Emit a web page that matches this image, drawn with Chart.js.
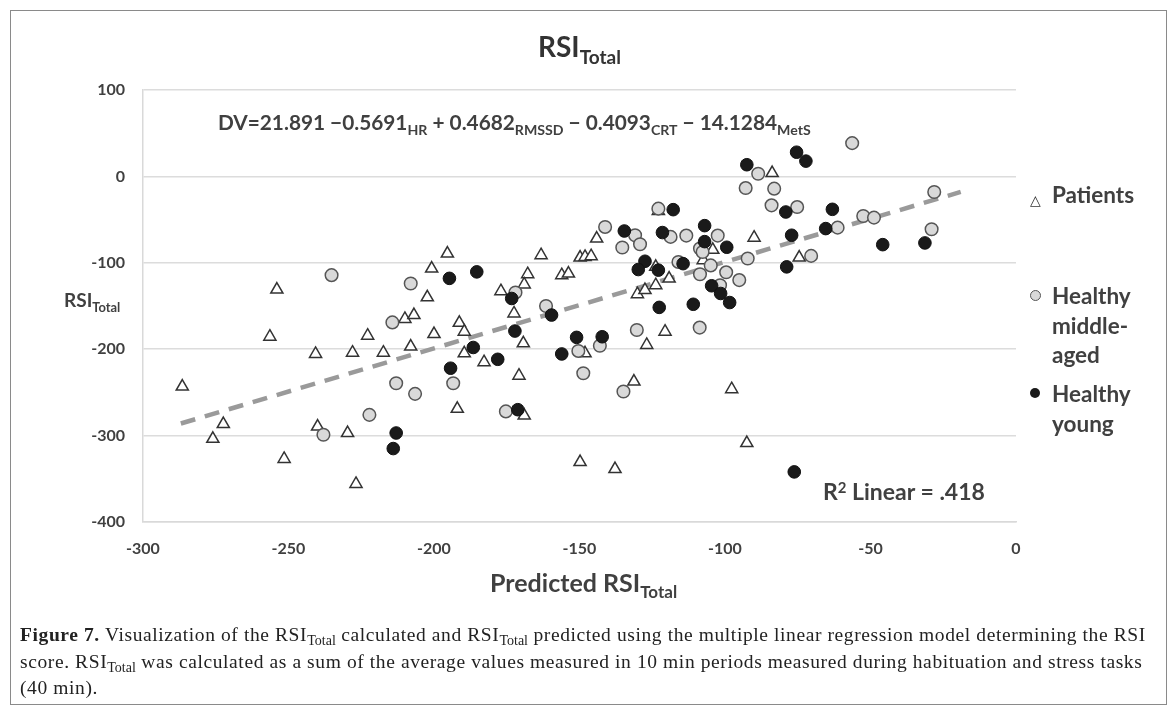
<!DOCTYPE html>
<html>
<head>
<meta charset="utf-8">
<script src="https://cdn.jsdelivr.net/npm/chart.js@4.4.0/dist/chart.umd.min.js"></script>
<style>
  html, body { margin:0; padding:0; background:#fff; }
  #page { position:relative; width:1173px; height:713px; overflow:hidden; font-family:Lato, "Open Sans", sans-serif; color:#404040; }
  #frame { position:absolute; left:10px; top:10px; width:1155px; height:693px; border:1.5px solid #8a8a8a; }
  canvas { position:absolute; left:0; top:0; }
  .lbl { position:absolute; font-weight:700; line-height:1; white-space:nowrap; }
  .lbl sub { font-size:0.68em; vertical-align:-0.35em; }
  .lbl sup { font-size:0.65em; vertical-align:0.5em; }
  .leg { position:absolute; left:1030px; font-weight:700; font-size:22.5px; line-height:29.5px; }
  .leg .txt { position:absolute; left:22px; top:0; white-space:nowrap; }
  .mk { position:absolute; left:0; }
  .circ { width:9px; height:9px; border-radius:50%; border:1.3px solid #555; background:#d9d9d9; top:9px; }
  .dot { width:10px; height:10px; border-radius:50%; background:#1a1a1a; top:9px; }
  .tri { top:0; font-size:14px; font-family:"DejaVu Sans"; font-weight:400; color:#333; }
  #caption { position:absolute; left:20px; top:624px; font-family:"Liberation Serif", serif; font-size:19.5px; letter-spacing:0.6px; line-height:22px; color:#222; white-space:nowrap; }
  #caption sub { font-size:0.72em; vertical-align:-0.25em; letter-spacing:0; }
</style>
</head>
<body>
<div id="page">
  <div id="frame"></div>
  <canvas id="chart" width="1173" height="713"></canvas>

  <div class="lbl" style="left:538px; top:32px; font-size:28px; color:#333;">RSI<sub>Total</sub></div>
  <div class="lbl" style="left:218px; top:112px; font-size:20.8px;">DV=21.891 &minus;0.5691<sub>HR</sub> + 0.4682<sub>RMSSD</sub> &minus; 0.4093<sub>CRT</sub> &minus; 14.1284<sub>MetS</sub></div>
  <div class="lbl" style="left:64px; top:290px; font-size:19px;">RSI<sub>Total</sub></div>
  <div class="lbl" style="left:490px; top:570px; font-size:25px;">Predicted RSI<sub>Total</sub></div>
  <div class="lbl" style="left:823px; top:480px; font-size:23px;">R<sup>2</sup> Linear = .418</div>

  <div class="leg" style="top:180px;"><span class="mk tri" style="top:6px;">&#9651;</span><span class="txt">Patients</span></div>
  <div class="leg" style="top:281px;"><span class="mk circ"></span><span class="txt">Healthy<br>middle-<br>aged</span></div>
  <div class="leg" style="top:379px;"><span class="mk dot"></span><span class="txt">Healthy<br>young</span></div>

  <div id="caption"><b>Figure 7.</b> Visualization of the RSI<sub>Total</sub> calculated and RSI<sub>Total</sub> predicted using the multiple linear regression model determining the RSI<br>score. RSI<sub>Total</sub> was calculated as a sum of the average values measured in 10 min periods measured during habituation and stress tasks<br>(40 min).</div>
</div>

<script>
// Patients (x = predicted RSI total, y = calculated RSI total)
const patients = [
  [-254,-131],[-200.8,-106.6],[-202.3,-140],[-210,-165],[-206.9,-160.5],[-256.4,-185.5],
  [-222.8,-184.4],[-200,-182.5],[-240.7,-205.5],[-228,-204],[-217.4,-204],[-208,-197],
  [-286.5,-243.3],[-272.4,-286.7],[-276,-303.7],[-240,-289.5],[-229.7,-297],[-251.5,-327],
  [-226.8,-356],[-195.4,-89.3],[-191.3,-169.4],[-189.6,-179.8],[-189.6,-204.7],[-182.8,-215],
  [-170.8,-230.6],[-163.2,-91.2],[-177,-132.8],[-167.8,-113.2],[-169,-125],[-172.5,-158.6],
  [-169.3,-193.2],[-156.1,-114.3],[-153.8,-112.4],[-149.8,-93.9],[-148.1,-93.2],[-146,-92.4],
  [-148.1,-204.7],[-144.1,-72],[-123.8,-104.7],[-130.1,-136.3],[-127.5,-131.6],[-123.8,-125.9],
  [-119.2,-118.2],[-120.6,-179.8],[-126.9,-195],[-131.3,-237.5],[-122.9,-40],[-83.8,3.8],
  [-90,-71],[-74.5,-93.9],[-104.2,-85],[-107.5,-97],[-97.7,-246.3],[-92.5,-308.7],
  [-149.8,-330.6],[-137.8,-338.7],[-192,-269],[-169,-276.8]
];

// Healthy middle-aged
const middleAged = [
  [-235.2,-114.3],[-208,-124],[-214.3,-169],[-238,-299],[-222.2,-276],[-213,-239.4],
  [-206.5,-251.7],[-193.4,-239.4],[-172,-134.3],[-161.5,-150],[-150.4,-202],[-143,-196],
  [-148.7,-227.8],[-141.2,-58.5],[-130.9,-68.1],[-129.2,-78.5],[-135.3,-82.3],[-130.3,-177.8],
  [-134.9,-249],[-122.9,-37.3],[-118.7,-70],[-113.3,-68.5],[-116,-99],[-108.7,-175],
  [-56.3,38.5],[-88.6,3.1],[-92.9,-13.5],[-83.1,-14.2],[-84,-33.5],[-75.2,-35.5],
  [-61.3,-59.3],[-52.5,-45.8],[-48.8,-47.7],[-92.2,-95],[-70.4,-92],[-102.5,-68.5],
  [-108.6,-83.5],[-107.7,-87.5],[-104.9,-103],[-108.6,-113.3],[-99.6,-111],[-95.1,-120],
  [-101.7,-125.9],[-28.1,-18.1],[-29,-61.2],[-175.3,-272]
];

// Healthy young
const young = [
  [-213,-297],[-214,-315],[-194.7,-118],[-185.3,-110.5],[-186.5,-198],[-178.1,-211.7],
  [-194.3,-222],[-173.3,-141.3],[-172.2,-179],[-159.6,-160.5],[-151,-186.3],[-142.2,-185.6],
  [-156.1,-205.5],[-134.6,-63.2],[-127.5,-98.2],[-129.8,-107.8],[-122.9,-108.5],[-122.6,-151.6],
  [-117.8,-38.5],[-121.5,-65],[-114.4,-101],[-110.9,-148],[-75.4,28],[-72.2,17.7],
  [-92.5,13.5],[-79.1,-41.2],[-63.1,-38.1],[-65.4,-60.4],[-45.8,-79],[-77.1,-68.1],
  [-78.8,-104.7],[-107,-57],[-107,-75.5],[-99.4,-82],[-104.6,-126.6],[-101.5,-135.5],
  [-98.4,-146],[-31.3,-77],[-76.2,-342],[-171.2,-270]
];

// fit line ends (R2 linear = .418)
const fitLine = [[-287,-286],[-19,-18]];

const xTicks = [-300,-250,-200,-150,-100,-50,0];
const yTicks = [100,0,-100,-200,-300,-400];

const toXY = arr => arr.map(p => ({x:p[0], y:p[1]}));
const tickFont = {family:'Lato', size:16, weight:'bold'};

new Chart(document.getElementById('chart'), {
  type:'scatter',
  data:{
    datasets:[
      {label:'Healthy young', data:toXY(young), pointStyle:'circle', pointRadius:6.3,
       backgroundColor:'#1a1a1a', borderColor:'#111', borderWidth:1, order:1},
      {label:'Healthy middle-aged', data:toXY(middleAged), pointStyle:'circle', pointRadius:6.3,
       backgroundColor:'#d9d9d9', borderColor:'#555', borderWidth:1.5, order:2},
      {label:'Patients', data:toXY(patients), pointStyle:'triangle', pointRadius:7,
       backgroundColor:'#ffffff', borderColor:'#333', borderWidth:1.5, order:3},
      {label:'fit', data:toXY(fitLine), showLine:true, pointRadius:0, borderColor:'#9a9a9a',
       borderWidth:4.5, borderDash:[15,10], order:4}
    ]
  },
  options:{
    responsive:false,
    animation:false,
    devicePixelRatio:1,
    layout:{padding:{left:83, top:90, right:157, bottom:151}},
    plugins:{legend:{display:false}, tooltip:{enabled:false}, title:{display:false}},
    scales:{
      x:{
        type:'linear', min:-300, max:0,
        afterFit:s => { s.height = 40; },
        afterBuildTicks:s => { s.ticks = xTicks.map(v => ({value:v})); },
        grid:{display:false, drawTicks:false},
        border:{display:true, color:'#d9d9d9', width:1.5},
        ticks:{font:tickFont, color:'#404040', padding:17}
      },
      y:{
        type:'linear', min:-400, max:100,
        afterFit:s => { s.width = 60; },
        afterBuildTicks:s => { s.ticks = yTicks.map(v => ({value:v})); },
        grid:{color:'#dcdcdc', lineWidth:1.5, drawTicks:false},
        border:{display:true, color:'#d9d9d9', width:1.5},
        ticks:{font:tickFont, color:'#404040', padding:18}
      }
    }
  }
});
</script>
</body>
</html>
